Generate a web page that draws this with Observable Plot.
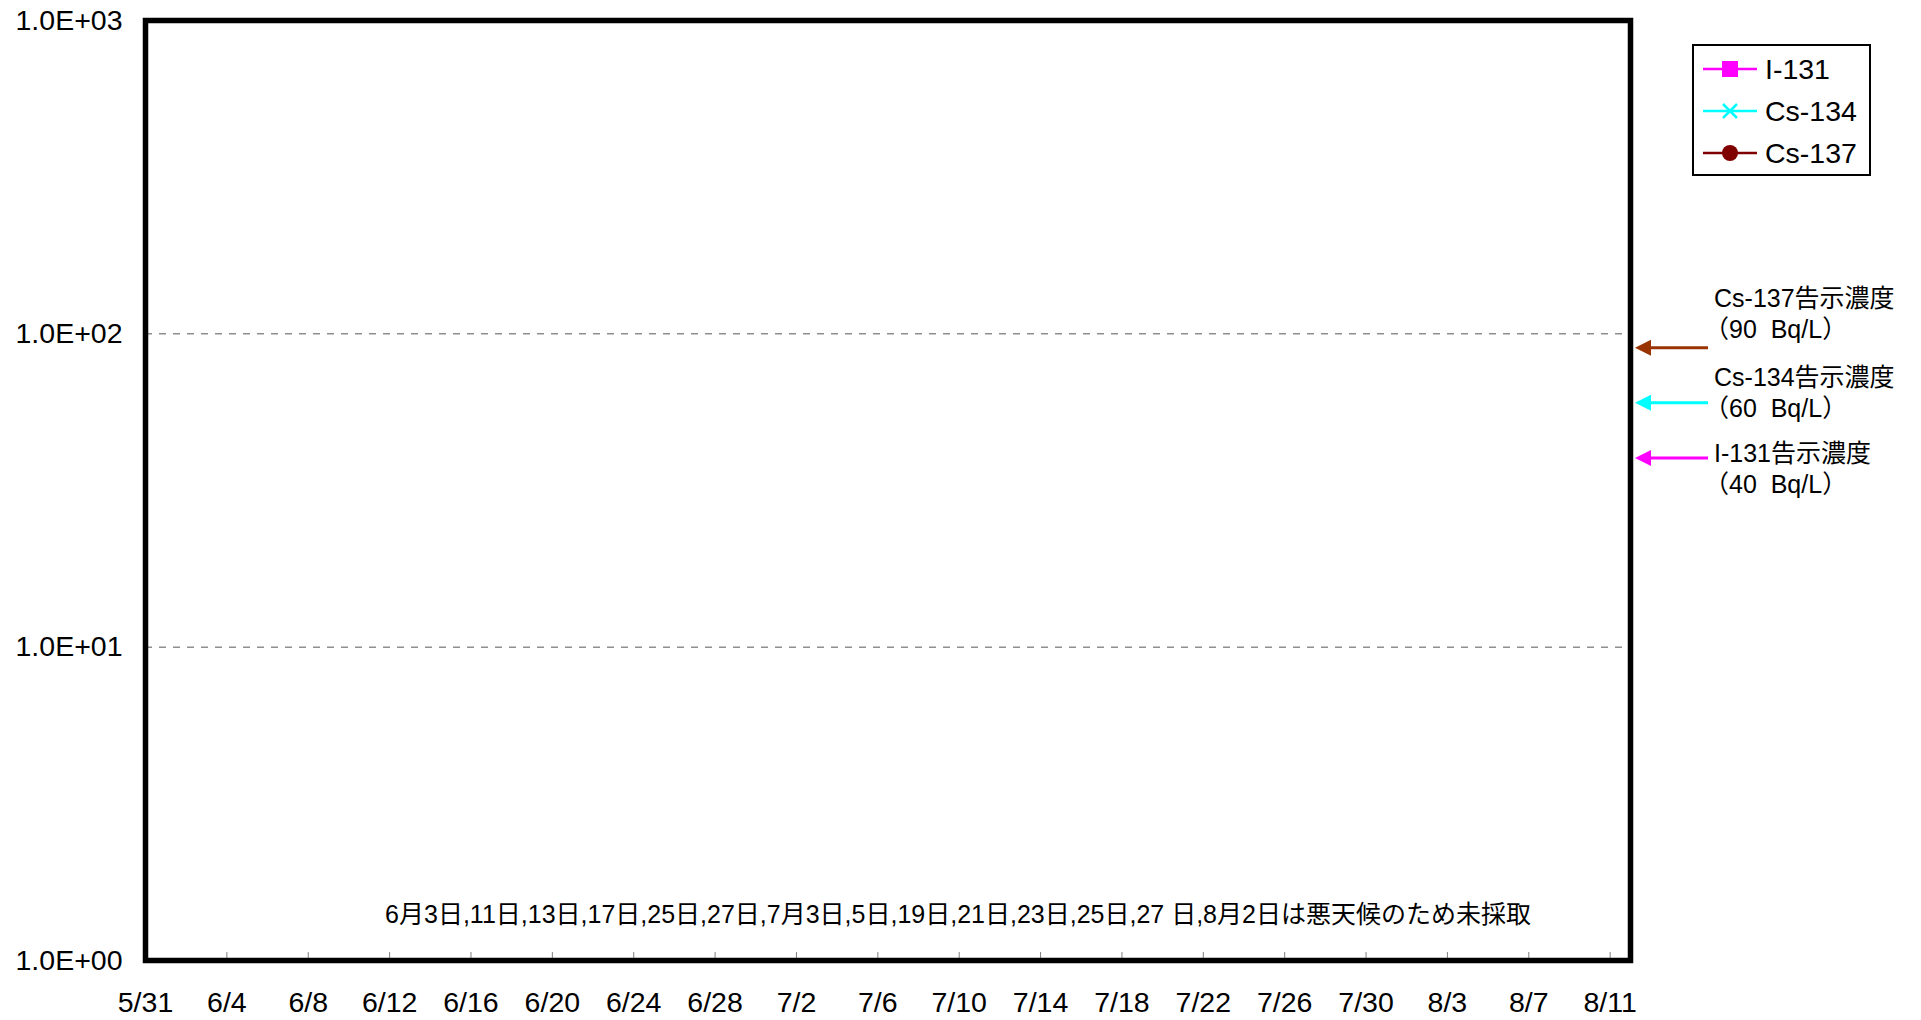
<!DOCTYPE html>
<html><head><meta charset="utf-8">
<script src="https://cdn.jsdelivr.net/npm/d3@7"></script>
<script src="https://cdn.jsdelivr.net/npm/@observablehq/plot@0.6"></script>
<style>
body{margin:0;background:#fff;}
#chart svg{display:block;}
</style></head><body><div id="chart"></div>
<script>
const FONT = '"Liberation Sans", Arial, "Noto Sans CJK JP", sans-serif';

// Series (no samples were plotted in this period)
const seriesNames = ["I-131", "Cs-134", "Cs-137"];
const seriesColors = ["#FF00FF", "#00FFFF", "#800000"];
const seriesSymbols = ["square", "times", "circle"];
const sampleDates = [];
const i131Values = [];
const cs134Values = [];
const cs137Values = [];

// Regulatory limits (告示濃度)
const limitNames = ["Cs-137告示濃度", "Cs-134告示濃度", "I-131告示濃度"];
const limitValues = [90, 60, 40];
const limitLabels = ["（90\u00a0\u00a0Bq/L）", "（60\u00a0\u00a0Bq/L）", "（40\u00a0\u00a0Bq/L）"];
const limitColors = ["#993300", "#00FFFF", "#FF00FF"];

// Axes
const xDomain = ["2011-05-31", "2011-08-12"];
const xTickLabels = ["5/31","6/4","6/8","6/12","6/16","6/20","6/24","6/28","7/2","7/6","7/10","7/14","7/18","7/22","7/26","7/30","8/3","8/7","8/11"];
const yTickValues = [1, 10, 100, 1000];
const yTickLabels = ["1.0E+00", "1.0E+01", "1.0E+02", "1.0E+03"];
const yGridValues = [10, 100];

const noteText = "6月3日,11日,13日,17日,25日,27日,7月3日,5日,19日,21日,23日,25日,27 日,8月2日は悪天候のため未採取";

const parseTick = d3.utcParse("%Y/%m/%d");
const xTicks = xTickLabels.map(l => parseTick("2011/" + l));
const tickLabelOf = d => xTickLabels[xTicks.findIndex(t => +t === +d)];

const valuesBySeries = [i131Values, cs134Values, cs137Values];
const seriesData = [];
valuesBySeries.forEach((vals, s) => vals.forEach((v, i) => {
  if (v != null) seriesData.push({date: sampleDates[i], value: v, series: seriesNames[s]});
}));

const chart = Plot.plot({
  width: 1921, height: 1020,
  marginLeft: 145, marginRight: 291, marginTop: 20, marginBottom: 60,
  style: {fontFamily: FONT, fontSize: "28px", color: "#000", background: "#fff"},
  x: {type: "utc", domain: xDomain.map(d => new Date(d))},
  y: {type: "log", domain: [1, 1000]},
  color: {domain: seriesNames, range: seriesColors},
  symbol: {domain: seriesNames, range: seriesSymbols},
  marks: [
    Plot.ruleY(yGridValues, {stroke: "#555", strokeWidth: 1, strokeDasharray: "7,7"}),
    Plot.line(seriesData, {x: "date", y: "value", z: "series", stroke: "series", strokeWidth: 2}),
    Plot.dot(seriesData, {x: "date", y: "value", symbol: "series", fill: "series", stroke: "series", r: 6}),
    Plot.axisY({ticks: yTickValues, tickFormat: d => yTickLabels[yTickValues.indexOf(d)], tickSize: 0, tickPadding: 23, fontSize: 28.5, label: null}),
    Plot.axisX({ticks: xTicks, tickFormat: tickLabelOf, tickSize: 0, tickPadding: 31, fontSize: 28.5, label: null}),
    Plot.axisX({ticks: xTicks, tickFormat: () => "", tickSize: 8, dy: -8, stroke: "#808080", label: null}),
    Plot.text([noteText], {text: d => d, frameAnchor: "bottom", dx: 70, dy: -38, fontSize: 25, fill: "#000"}),
    Plot.frame({stroke: "#000", strokeWidth: 5.5})
  ]
});
document.getElementById("chart").appendChild(chart);

// Overlay: limit arrows and legend
const svg = d3.select(chart);
const yScale = chart.scale("y");
const g = svg.append("g").attr("font-family", FONT).attr("text-anchor", "start");

const arrowTipX = 1635, arrowTailX = 1708;
limitValues.forEach((v, i) => {
  const y = yScale.apply(v);
  g.append("line").attr("x1", arrowTailX).attr("x2", arrowTipX + 12).attr("y1", y).attr("y2", y)
    .attr("stroke", limitColors[i]).attr("stroke-width", 3);
  g.append("path").attr("d", `M${arrowTipX},${y} L${arrowTipX + 16},${y - 8} L${arrowTipX + 16},${y + 8} Z`)
    .attr("fill", limitColors[i]);
});
const textTops = [298, 377, 453];
limitNames.forEach((name, i) => {
  g.append("text").attr("x", 1714).attr("y", textTops[i]).attr("dy", "0.35em").attr("font-size", 25).text(name);
  g.append("text").attr("x", 1704).attr("y", textTops[i] + 31).attr("dy", "0.35em").attr("font-size", 25).text(limitLabels[i]);
});

// Legend
const lg = svg.append("g").attr("font-family", FONT).attr("text-anchor", "start");
lg.append("rect").attr("x", 1693).attr("y", 45).attr("width", 177).attr("height", 130)
  .attr("fill", "#fff").attr("stroke", "#000").attr("stroke-width", 2);
seriesNames.forEach((name, i) => {
  const y = 69 + i * 42;
  const c = seriesColors[i];
  lg.append("line").attr("x1", 1703).attr("x2", 1757).attr("y1", y).attr("y2", y).attr("stroke", c).attr("stroke-width", 2.5);
  if (seriesSymbols[i] === "square") {
    lg.append("rect").attr("x", 1722).attr("y", y - 8).attr("width", 16).attr("height", 16).attr("fill", c);
  } else if (seriesSymbols[i] === "times") {
    lg.append("path").attr("d", `M${1723},${y - 7} L${1737},${y + 7} M${1737},${y - 7} L${1723},${y + 7}`)
      .attr("stroke", c).attr("stroke-width", 2.5);
  } else {
    lg.append("circle").attr("cx", 1730).attr("cy", y).attr("r", 8).attr("fill", c);
  }
  lg.append("text").attr("x", 1765).attr("y", y).attr("dy", "0.35em").attr("font-size", 28.5).text(name);
});
</script></body></html>
